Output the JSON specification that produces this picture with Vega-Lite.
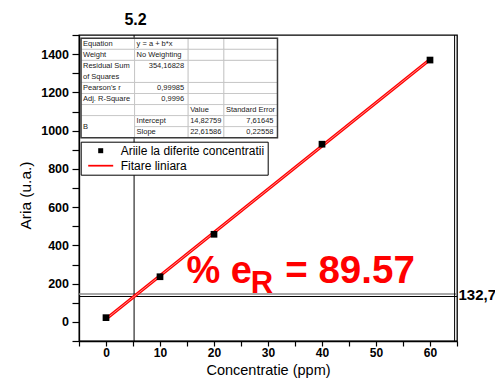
{
"$schema":"https://vega.github.io/schema/vega-lite/v6.json",
"width":378,"height":306,
"autosize":{"type":"none"},
"padding":{"left":79,"top":35,"right":38,"bottom":47},
"background":"white",
"config":{"font":"Liberation Sans","view":{"stroke":"black","strokeWidth":1.3},"axis":{"grid":false}},
"datasets":{
 "meas":[
  {"conc":0,"aria":22,"series":"Ariile la diferite concentratii"},
  {"conc":10,"aria":236,"series":"Ariile la diferite concentratii"},
  {"conc":20,"aria":458,"series":"Ariile la diferite concentratii"},
  {"conc":40,"aria":929,"series":"Ariile la diferite concentratii"},
  {"conc":60,"aria":1369,"series":"Ariile la diferite concentratii"}
 ],
 "fit":[{"conc":0,"aria":14.83},{"conc":60,"aria":1371.78}],
 "one":[{}],
 "cells":[
  {"c0":0,"c1":3,"r0":0,"r1":1},{"c0":3,"c1":6,"r0":0,"r1":1},{"c0":6,"c1":8,"r0":0,"r1":1},{"c0":8,"c1":11,"r0":0,"r1":1},
  {"c0":0,"c1":3,"r0":1,"r1":2},{"c0":3,"c1":6,"r0":1,"r1":2},{"c0":6,"c1":8,"r0":1,"r1":2},{"c0":8,"c1":11,"r0":1,"r1":2},
  {"c0":0,"c1":3,"r0":2,"r1":4},{"c0":3,"c1":6,"r0":2,"r1":4},{"c0":6,"c1":8,"r0":2,"r1":4},{"c0":8,"c1":11,"r0":2,"r1":4},
  {"c0":0,"c1":3,"r0":4,"r1":5},{"c0":3,"c1":6,"r0":4,"r1":5},{"c0":6,"c1":8,"r0":4,"r1":5},{"c0":8,"c1":11,"r0":4,"r1":5},
  {"c0":0,"c1":3,"r0":5,"r1":6},{"c0":3,"c1":6,"r0":5,"r1":6},{"c0":6,"c1":8,"r0":5,"r1":6},{"c0":8,"c1":11,"r0":5,"r1":6},
  {"c0":0,"c1":3,"r0":6,"r1":7},{"c0":3,"c1":6,"r0":6,"r1":7},{"c0":6,"c1":8,"r0":6,"r1":7},{"c0":8,"c1":11,"r0":6,"r1":7},
  {"c0":0,"c1":3,"r0":7,"r1":9},
  {"c0":3,"c1":6,"r0":7,"r1":8},{"c0":6,"c1":8,"r0":7,"r1":8},{"c0":8,"c1":11,"r0":7,"r1":8},
  {"c0":3,"c1":6,"r0":8,"r1":9},{"c0":6,"c1":8,"r0":8,"r1":9},{"c0":8,"c1":11,"r0":8,"r1":9}
 ],
 "texts":[
  {"t":"Equation","c":0,"r":0,"a":"l"},
  {"t":"y = a + b*x","c":3,"r":0,"a":"l"},
  {"t":"Weight","c":0,"r":1,"a":"l"},
  {"t":"No Weighting","c":3,"r":1,"a":"l"},
  {"t":"Residual Sum","c":0,"r":2,"a":"l"},
  {"t":"of Squares","c":0,"r":3,"a":"l"},
  {"t":"Pearson's r","c":0,"r":4,"a":"l"},
  {"t":"Adj. R-Square","c":0,"r":5,"a":"l"},
  {"t":"Value","c":6,"r":6,"a":"l"},
  {"t":"Standard Error","c":8,"r":6,"a":"l"},
  {"t":"B","c":0,"r":7.5,"a":"l"},
  {"t":"Intercept","c":3,"r":7,"a":"l"},
  {"t":"Slope","c":3,"r":8,"a":"l"},
  {"t":"14,82759","c":6,"r":7,"a":"l"},
  {"t":"22,61586","c":6,"r":8,"a":"l"},
  {"t":"354,16828","c":6,"r":2,"a":"r"},
  {"t":"0,99985","c":6,"r":4,"a":"r"},
  {"t":"0,9996","c":6,"r":5,"a":"r"},
  {"t":"7,61645","c":11,"r":7,"a":"r"},
  {"t":"0,22558","c":11,"r":8,"a":"r"}
 ]
},
"layer":[
 {"layer":[
  {"data":{"values":[{"aria":132.7}]},
   "mark":{"type":"rule","color":"#8c8c8c","strokeWidth":1.5,"yOffset":-2.5},
   "encoding":{"y":{"field":"aria","type":"quantitative"}}},
  {"data":{"values":[{"aria":132.7}]},
   "mark":{"type":"rule","color":"black","strokeWidth":1.2},
   "encoding":{"y":{"field":"aria","type":"quantitative"}}},
  {"data":{"values":[{"conc":5.2}]},
   "mark":{"type":"rule","color":"black","strokeWidth":1},
   "encoding":{"x":{"field":"conc","type":"quantitative"}}},
  {"data":{"name":"one"},
   "mark":{"type":"rule","color":"black","strokeWidth":1,"xOffset":-2.4},
   "encoding":{"x":{"datum":65,"type":"quantitative"}}},
  {"data":{"name":"fit"},
   "mark":{"type":"line","color":"#ff0000","strokeWidth":3.2},
   "encoding":{"x":{"field":"conc","type":"quantitative"},"y":{"field":"aria","type":"quantitative"}}},
  {"data":{"name":"fit"},
   "mark":{"type":"line","color":"#ff9a9a","strokeWidth":0.9},
   "encoding":{"x":{"field":"conc","type":"quantitative"},"y":{"field":"aria","type":"quantitative"}}},
  {"data":{"name":"meas"},
   "mark":{"type":"point","filled":true,"size":45,"opacity":1,"strokeWidth":0},
   "encoding":{
    "x":{"field":"conc","type":"quantitative",
     "scale":{"domain":[-5,65],"nice":false,"zero":false},
     "axis":{"title":"Concentratie (ppm)","values":[-5,0,5,10,15,20,25,30,35,40,45,50,55,60,65],"tickCount":100,"format":"d",
      "labelExpr":"(datum.value % 10 === 0 && datum.value >= 0 && datum.value <= 60) ? datum.label : ''",
      "labelOverlap":false,"labelFlush":false,"tickSize":5,"tickColor":"black","tickWidth":1.2,"domainColor":"black","domainWidth":1.3,
      "labelFont":"Liberation Sans","labelFontWeight":"bold","labelFontSize":12,"labelColor":"black","labelPadding":1,
      "titleFont":"Liberation Sans","titleFontWeight":"normal","titleFontSize":14.5,"titleColor":"black","titleY":33,"titleBaseline":"alphabetic",
      "encode":{"ticks":{"update":{"y2":{"signal":"datum.value % 10 === 0 ? 5 : 3"}}}}}},
    "y":{"field":"aria","type":"quantitative",
     "scale":{"domain":[-100,1500],"nice":false,"zero":false},
     "axis":{"title":"Aria (u.a.)","values":[-100,0,100,200,300,400,500,600,700,800,900,1000,1100,1200,1300,1400,1500],"tickCount":100,"format":"d",
      "labelExpr":"(datum.value % 200 === 0 && datum.value >= 0 && datum.value <= 1400) ? datum.label : ''",
      "labelOverlap":false,"labelFlush":false,"tickSize":7,"tickColor":"black","tickWidth":1.2,"domainColor":"black","domainWidth":1.3,
      "labelFont":"Liberation Sans","labelFontWeight":"bold","labelFontSize":12.5,"labelColor":"black","labelPadding":3.5,
      "titleFont":"Liberation Sans","titleFontWeight":"normal","titleFontSize":15.5,"titleColor":"black","titleX":-45.7,"titleY":160,"titleBaseline":"bottom",
      "encode":{"ticks":{"update":{"x2":{"signal":"datum.value % 200 === 0 ? -7 : -4"}}}}}},
    "color":{"field":"series","type":"nominal",
     "scale":{"domain":["Ariile la diferite concentratii","Fitare liniara"],"range":["black","#ff0000"]},
     "legend":{"orient":"none","legendX":1.7,"legendY":106.7,"title":null,"padding":3,"symbolOffset":11,"labelOffset":14,
      "labelFontSize":12,"labelFont":"Liberation Sans","labelColor":"black","labelLimit":300,"strokeColor":"black","fillColor":"white","rowPadding":3,"symbolSize":25}},
    "shape":{"field":"series","type":"nominal",
     "scale":{"domain":["Ariile la diferite concentratii","Fitare liniara"],"range":["square","M-5,-0.35H5V0.35H-5Z"]},
     "legend":{"orient":"none","legendX":1.7,"legendY":106.7,"title":null,"padding":3,"symbolOffset":11,"labelOffset":14,
      "labelFontSize":12,"labelFont":"Liberation Sans","labelColor":"black","labelLimit":300,"strokeColor":"black","fillColor":"white","rowPadding":3,"symbolSize":25}}
   }},
  {"data":{"name":"one"},
   "mark":{"type":"text","text":"5.2","font":"Liberation Sans","fontWeight":"bold","fontSize":16,"color":"black","align":"center","baseline":"alphabetic","dx":1.5,"dy":-10},
   "encoding":{"x":{"datum":5.2,"type":"quantitative"},"y":{"datum":1500,"type":"quantitative"}}},
  {"data":{"name":"one"},
   "mark":{"type":"text","text":"132,7","font":"Liberation Sans","fontWeight":"bold","fontSize":15,"color":"black","align":"left","baseline":"alphabetic","dx":1.5,"dy":3.5},
   "encoding":{"x":{"datum":65,"type":"quantitative"},"y":{"datum":132.7,"type":"quantitative"}}},
  {"data":{"name":"one"},
   "mark":{"type":"text","text":"% e","font":"Liberation Sans","fontWeight":"bold","fontSize":38,"color":"#ff0000","align":"left","baseline":"alphabetic"},
   "encoding":{"x":{"datum":14.9,"type":"quantitative"},"y":{"datum":201.8,"type":"quantitative"}}},
  {"data":{"name":"one"},
   "mark":{"type":"text","text":"R","font":"Liberation Sans","fontWeight":"bold","fontSize":31,"color":"#ff0000","align":"left","baseline":"alphabetic"},
   "encoding":{"x":{"datum":26.8,"type":"quantitative"},"y":{"datum":152.7,"type":"quantitative"}}},
  {"data":{"name":"one"},
   "mark":{"type":"text","text":"= 89.57","font":"Liberation Sans","fontWeight":"bold","fontSize":38.5,"color":"#ff0000","align":"left","baseline":"alphabetic"},
   "encoding":{"x":{"datum":33.2,"type":"quantitative"},"y":{"datum":201.8,"type":"quantitative"}}}
 ]},
 {"layer":[
  {"data":{"name":"cells"},
   "mark":{"type":"rect","fill":"white","stroke":"#c0c0c0","strokeWidth":0.8},
   "encoding":{
    "x":{"field":"c0","type":"quantitative","scale":{"domain":[-0.112,21.05],"nice":false,"zero":false},"axis":null},
    "x2":{"field":"c1"},
    "y":{"field":"r0","type":"quantitative","scale":{"domain":[-0.3,27.42],"nice":false,"zero":false,"reverse":true},"axis":null},
    "y2":{"field":"r1"}}},
  {"data":{"name":"cells"},
   "transform":[{"aggregate":[{"op":"min","field":"c0","as":"c0"},{"op":"max","field":"c1","as":"c1"},{"op":"min","field":"r0","as":"r0"},{"op":"max","field":"r1","as":"r1"}]}],
   "mark":{"type":"rect","fill":null,"fillOpacity":0,"stroke":"#3a3a3a","strokeWidth":1.5},
   "encoding":{
    "x":{"field":"c0","type":"quantitative","axis":null},"x2":{"field":"c1"},
    "y":{"field":"r0","type":"quantitative","axis":null},"y2":{"field":"r1"}}},
  {"data":{"name":"texts"},
   "transform":[{"filter":"datum.a === 'l'"}],
   "mark":{"type":"text","align":"left","baseline":"middle","fontSize":7.5,"font":"Liberation Sans","color":"#222222","xOffset":2,"yOffset":5.5},
   "encoding":{"x":{"field":"c","type":"quantitative","axis":null},"y":{"field":"r","type":"quantitative","axis":null},"text":{"field":"t"}}},
  {"data":{"name":"texts"},
   "transform":[{"filter":"datum.a === 'r'"}],
   "mark":{"type":"text","align":"right","baseline":"middle","fontSize":7.5,"font":"Liberation Sans","color":"#222222","xOffset":-4,"yOffset":5.5},
   "encoding":{"x":{"field":"c","type":"quantitative","axis":null},"y":{"field":"r","type":"quantitative","axis":null},"text":{"field":"t"}}}
 ]}
],
"resolve":{"scale":{"x":"independent","y":"independent"}}
}
